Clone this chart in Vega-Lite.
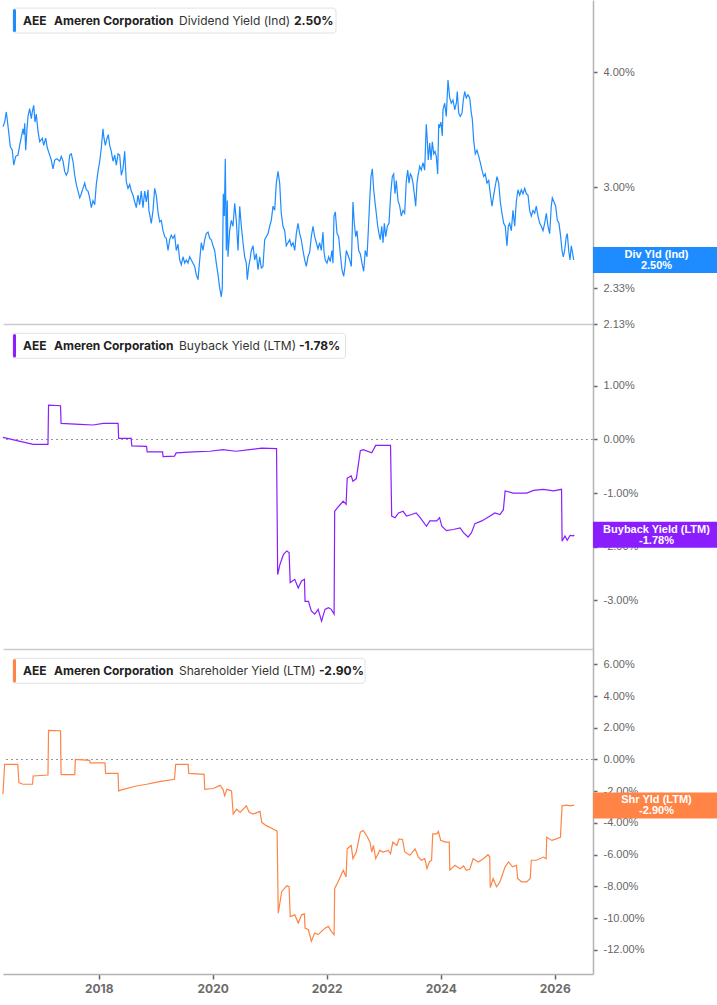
{
  "$schema": "https://vega.github.io/schema/vega-lite/v6.json",
  "padding": 0,
  "spacing": 0,
  "bounds": "flush",
  "background": "white",
  "config": {
    "font": "Inter",
    "view": {"stroke": null},
    "axis": {"grid": false, "domainColor": "#b3b3b3", "domainWidth": 1.5, "tickColor": "#666666", "tickSize": 4, "tickWidth": 1.5, "labelColor": "#666666", "labelFont": "Liberation Sans", "labelFontSize": 11, "labelOverlap": false}
  },
  "datasets": {
    "divInfo": [{"ticker": "AEE", "name": "Ameren Corporation", "metric": "Dividend Yield (Ind)", "short": "Div Yld (Ind)", "last": 2.5}],
    "bbInfo": [{"ticker": "AEE", "name": "Ameren Corporation", "metric": "Buyback Yield (LTM)", "short": "Buyback Yield (LTM)", "last": -1.78}],
    "shrInfo": [{"ticker": "AEE", "name": "Ameren Corporation", "metric": "Shareholder Yield (LTM)", "short": "Shr Yld (LTM)", "last": -2.9}],
    "div": [
      {"t":2016.321,"v":3.49},{"t":2016.351,"v":3.53},{"t":2016.379,"v":3.62},{"t":2016.396,"v":3.55},{"t":2016.426,"v":3.42},{"t":2016.449,"v":3.32},{"t":2016.484,"v":3.29},{"t":2016.509,"v":3.17},{"t":2016.544,"v":3.24},{"t":2016.584,"v":3.25},{"t":2016.614,"v":3.33},{"t":2016.642,"v":3.40},{"t":2016.672,"v":3.47},{"t":2016.689,"v":3.42},{"t":2016.702,"v":3.52},{"t":2016.719,"v":3.29},{"t":2016.742,"v":3.47},{"t":2016.760,"v":3.58},{"t":2016.789,"v":3.65},{"t":2016.818,"v":3.56},{"t":2016.835,"v":3.62},{"t":2016.860,"v":3.68},{"t":2016.882,"v":3.53},{"t":2016.905,"v":3.60},{"t":2016.935,"v":3.45},{"t":2016.965,"v":3.36},{"t":2017.010,"v":3.39},{"t":2017.035,"v":3.33},{"t":2017.070,"v":3.39},{"t":2017.098,"v":3.31},{"t":2017.140,"v":3.25},{"t":2017.168,"v":3.21},{"t":2017.198,"v":3.14},{"t":2017.228,"v":3.21},{"t":2017.268,"v":3.22},{"t":2017.316,"v":3.20},{"t":2017.344,"v":3.24},{"t":2017.374,"v":3.20},{"t":2017.403,"v":3.12},{"t":2017.432,"v":3.09},{"t":2017.461,"v":3.12},{"t":2017.491,"v":3.25},{"t":2017.519,"v":3.26},{"t":2017.549,"v":3.20},{"t":2017.579,"v":3.09},{"t":2017.607,"v":3.02},{"t":2017.637,"v":2.97},{"t":2017.667,"v":2.92},{"t":2017.695,"v":2.95},{"t":2017.724,"v":2.99},{"t":2017.754,"v":3.03},{"t":2017.782,"v":2.98},{"t":2017.812,"v":2.97},{"t":2017.842,"v":2.92},{"t":2017.870,"v":2.85},{"t":2017.900,"v":2.90},{"t":2017.930,"v":2.87},{"t":2017.958,"v":3.02},{"t":2017.988,"v":3.12},{"t":2018.018,"v":3.20},{"t":2018.046,"v":3.31},{"t":2018.075,"v":3.47},{"t":2018.093,"v":3.39},{"t":2018.116,"v":3.33},{"t":2018.146,"v":3.39},{"t":2018.168,"v":3.42},{"t":2018.193,"v":3.33},{"t":2018.221,"v":3.28},{"t":2018.251,"v":3.20},{"t":2018.281,"v":3.25},{"t":2018.309,"v":3.17},{"t":2018.339,"v":3.26},{"t":2018.368,"v":3.25},{"t":2018.397,"v":3.09},{"t":2018.426,"v":3.14},{"t":2018.456,"v":3.28},{"t":2018.484,"v":3.04},{"t":2018.514,"v":2.99},{"t":2018.544,"v":3.02},{"t":2018.572,"v":2.97},{"t":2018.602,"v":2.94},{"t":2018.632,"v":2.89},{"t":2018.660,"v":2.85},{"t":2018.689,"v":2.94},{"t":2018.719,"v":2.87},{"t":2018.747,"v":2.97},{"t":2018.777,"v":2.85},{"t":2018.807,"v":2.97},{"t":2018.835,"v":2.89},{"t":2018.865,"v":2.98},{"t":2018.880,"v":2.83},{"t":2018.895,"v":2.80},{"t":2018.923,"v":2.74},{"t":2018.953,"v":2.83},{"t":2018.982,"v":2.99},{"t":2019.010,"v":2.94},{"t":2019.040,"v":2.82},{"t":2019.070,"v":2.75},{"t":2019.098,"v":2.76},{"t":2019.128,"v":2.69},{"t":2019.158,"v":2.65},{"t":2019.186,"v":2.64},{"t":2019.216,"v":2.56},{"t":2019.245,"v":2.63},{"t":2019.273,"v":2.66},{"t":2019.303,"v":2.64},{"t":2019.333,"v":2.66},{"t":2019.361,"v":2.56},{"t":2019.391,"v":2.60},{"t":2019.421,"v":2.50},{"t":2019.449,"v":2.47},{"t":2019.479,"v":2.52},{"t":2019.509,"v":2.48},{"t":2019.537,"v":2.50},{"t":2019.567,"v":2.48},{"t":2019.596,"v":2.52},{"t":2019.625,"v":2.50},{"t":2019.654,"v":2.48},{"t":2019.684,"v":2.46},{"t":2019.712,"v":2.41},{"t":2019.742,"v":2.38},{"t":2019.772,"v":2.50},{"t":2019.800,"v":2.61},{"t":2019.830,"v":2.56},{"t":2019.860,"v":2.63},{"t":2019.888,"v":2.67},{"t":2019.918,"v":2.68},{"t":2019.947,"v":2.64},{"t":2019.975,"v":2.63},{"t":2020.005,"v":2.59},{"t":2020.035,"v":2.56},{"t":2020.063,"v":2.48},{"t":2020.093,"v":2.41},{"t":2020.123,"v":2.33},{"t":2020.151,"v":2.28},{"t":2020.168,"v":2.33},{"t":2020.186,"v":2.95},{"t":2020.204,"v":2.79},{"t":2020.221,"v":3.22},{"t":2020.239,"v":2.56},{"t":2020.256,"v":2.90},{"t":2020.268,"v":2.52},{"t":2020.298,"v":2.69},{"t":2020.326,"v":2.76},{"t":2020.356,"v":2.72},{"t":2020.386,"v":2.88},{"t":2020.414,"v":2.76},{"t":2020.444,"v":2.56},{"t":2020.474,"v":2.86},{"t":2020.502,"v":2.72},{"t":2020.532,"v":2.61},{"t":2020.561,"v":2.52},{"t":2020.590,"v":2.48},{"t":2020.607,"v":2.38},{"t":2020.632,"v":2.46},{"t":2020.654,"v":2.50},{"t":2020.677,"v":2.56},{"t":2020.707,"v":2.59},{"t":2020.737,"v":2.50},{"t":2020.765,"v":2.54},{"t":2020.795,"v":2.44},{"t":2020.824,"v":2.52},{"t":2020.853,"v":2.45},{"t":2020.882,"v":2.46},{"t":2020.912,"v":2.63},{"t":2020.940,"v":2.65},{"t":2020.970,"v":2.67},{"t":2021.000,"v":2.72},{"t":2021.028,"v":2.76},{"t":2021.058,"v":2.86},{"t":2021.088,"v":2.83},{"t":2021.116,"v":3.03},{"t":2021.146,"v":3.12},{"t":2021.175,"v":3.03},{"t":2021.203,"v":2.81},{"t":2021.233,"v":2.72},{"t":2021.263,"v":2.69},{"t":2021.291,"v":2.59},{"t":2021.321,"v":2.61},{"t":2021.351,"v":2.63},{"t":2021.379,"v":2.59},{"t":2021.409,"v":2.61},{"t":2021.439,"v":2.56},{"t":2021.467,"v":2.67},{"t":2021.496,"v":2.74},{"t":2021.526,"v":2.67},{"t":2021.554,"v":2.63},{"t":2021.584,"v":2.56},{"t":2021.614,"v":2.50},{"t":2021.642,"v":2.46},{"t":2021.672,"v":2.52},{"t":2021.702,"v":2.55},{"t":2021.730,"v":2.65},{"t":2021.760,"v":2.72},{"t":2021.789,"v":2.65},{"t":2021.818,"v":2.61},{"t":2021.847,"v":2.57},{"t":2021.877,"v":2.61},{"t":2021.905,"v":2.56},{"t":2021.935,"v":2.68},{"t":2021.953,"v":2.55},{"t":2021.975,"v":2.50},{"t":2022.005,"v":2.48},{"t":2022.035,"v":2.52},{"t":2022.063,"v":2.49},{"t":2022.093,"v":2.56},{"t":2022.110,"v":2.48},{"t":2022.128,"v":2.79},{"t":2022.151,"v":2.82},{"t":2022.181,"v":2.67},{"t":2022.210,"v":2.65},{"t":2022.238,"v":2.54},{"t":2022.268,"v":2.44},{"t":2022.298,"v":2.40},{"t":2022.321,"v":2.46},{"t":2022.344,"v":2.56},{"t":2022.374,"v":2.53},{"t":2022.403,"v":2.50},{"t":2022.432,"v":2.46},{"t":2022.461,"v":2.89},{"t":2022.484,"v":2.74},{"t":2022.509,"v":2.65},{"t":2022.532,"v":2.69},{"t":2022.561,"v":2.56},{"t":2022.589,"v":2.54},{"t":2022.619,"v":2.48},{"t":2022.649,"v":2.43},{"t":2022.677,"v":2.56},{"t":2022.707,"v":2.52},{"t":2022.730,"v":2.69},{"t":2022.754,"v":2.90},{"t":2022.777,"v":3.08},{"t":2022.800,"v":3.14},{"t":2022.825,"v":2.98},{"t":2022.847,"v":2.89},{"t":2022.870,"v":2.81},{"t":2022.895,"v":2.72},{"t":2022.917,"v":2.67},{"t":2022.940,"v":2.63},{"t":2022.965,"v":2.72},{"t":2022.988,"v":2.61},{"t":2023.011,"v":2.74},{"t":2023.035,"v":2.65},{"t":2023.063,"v":2.72},{"t":2023.093,"v":2.74},{"t":2023.123,"v":2.95},{"t":2023.151,"v":3.08},{"t":2023.175,"v":3.10},{"t":2023.198,"v":2.95},{"t":2023.221,"v":3.05},{"t":2023.251,"v":2.90},{"t":2023.281,"v":2.86},{"t":2023.309,"v":2.79},{"t":2023.339,"v":2.83},{"t":2023.368,"v":2.81},{"t":2023.397,"v":3.05},{"t":2023.421,"v":3.13},{"t":2023.444,"v":3.03},{"t":2023.467,"v":3.10},{"t":2023.491,"v":3.08},{"t":2023.514,"v":3.03},{"t":2023.537,"v":2.95},{"t":2023.561,"v":2.86},{"t":2023.584,"v":3.03},{"t":2023.607,"v":3.10},{"t":2023.632,"v":3.16},{"t":2023.660,"v":3.13},{"t":2023.689,"v":3.19},{"t":2023.719,"v":3.13},{"t":2023.747,"v":3.51},{"t":2023.765,"v":3.37},{"t":2023.782,"v":3.21},{"t":2023.807,"v":3.35},{"t":2023.830,"v":3.21},{"t":2023.853,"v":3.36},{"t":2023.877,"v":3.26},{"t":2023.900,"v":3.28},{"t":2023.923,"v":3.24},{"t":2023.947,"v":3.10},{"t":2023.965,"v":3.51},{"t":2023.982,"v":3.49},{"t":2024.005,"v":3.53},{"t":2024.028,"v":3.41},{"t":2024.040,"v":3.64},{"t":2024.070,"v":3.70},{"t":2024.098,"v":3.58},{"t":2024.128,"v":3.92},{"t":2024.158,"v":3.75},{"t":2024.186,"v":3.70},{"t":2024.216,"v":3.73},{"t":2024.246,"v":3.64},{"t":2024.274,"v":3.70},{"t":2024.291,"v":3.81},{"t":2024.316,"v":3.61},{"t":2024.344,"v":3.58},{"t":2024.374,"v":3.61},{"t":2024.397,"v":3.73},{"t":2024.421,"v":3.81},{"t":2024.449,"v":3.75},{"t":2024.479,"v":3.78},{"t":2024.509,"v":3.75},{"t":2024.537,"v":3.61},{"t":2024.554,"v":3.56},{"t":2024.579,"v":3.37},{"t":2024.607,"v":3.26},{"t":2024.637,"v":3.29},{"t":2024.667,"v":3.24},{"t":2024.695,"v":3.19},{"t":2024.725,"v":3.13},{"t":2024.754,"v":3.08},{"t":2024.782,"v":3.10},{"t":2024.812,"v":3.03},{"t":2024.842,"v":3.05},{"t":2024.870,"v":2.95},{"t":2024.900,"v":2.86},{"t":2024.930,"v":2.94},{"t":2024.958,"v":3.01},{"t":2024.988,"v":3.08},{"t":2025.018,"v":3.03},{"t":2025.046,"v":2.89},{"t":2025.075,"v":2.81},{"t":2025.105,"v":2.74},{"t":2025.133,"v":2.72},{"t":2025.163,"v":2.59},{"t":2025.186,"v":2.72},{"t":2025.210,"v":2.74},{"t":2025.239,"v":2.69},{"t":2025.268,"v":2.83},{"t":2025.298,"v":2.72},{"t":2025.326,"v":2.89},{"t":2025.356,"v":2.98},{"t":2025.386,"v":2.94},{"t":2025.414,"v":2.98},{"t":2025.444,"v":2.95},{"t":2025.474,"v":2.99},{"t":2025.502,"v":2.95},{"t":2025.532,"v":2.94},{"t":2025.561,"v":2.83},{"t":2025.590,"v":2.79},{"t":2025.619,"v":2.83},{"t":2025.649,"v":2.81},{"t":2025.677,"v":2.86},{"t":2025.707,"v":2.79},{"t":2025.737,"v":2.74},{"t":2025.765,"v":2.72},{"t":2025.795,"v":2.69},{"t":2025.824,"v":2.74},{"t":2025.853,"v":2.81},{"t":2025.882,"v":2.72},{"t":2025.912,"v":2.67},{"t":2025.940,"v":2.86},{"t":2025.958,"v":2.92},{"t":2025.988,"v":2.89},{"t":2026.017,"v":2.86},{"t":2026.046,"v":2.76},{"t":2026.075,"v":2.74},{"t":2026.105,"v":2.65},{"t":2026.128,"v":2.56},{"t":2026.151,"v":2.52},{"t":2026.175,"v":2.56},{"t":2026.203,"v":2.65},{"t":2026.221,"v":2.67},{"t":2026.246,"v":2.56},{"t":2026.268,"v":2.50},{"t":2026.291,"v":2.59},{"t":2026.316,"v":2.54},{"t":2026.333,"v":2.50}
    ],
    "bb": [
      {"t":2016.32,"v":0.04},{"t":2016.85,"v":-0.09},{"t":2017.11,"v":-0.09},{"t":2017.12,"v":0.64},{"t":2017.33,"v":0.63},{"t":2017.34,"v":0.30},{"t":2017.67,"v":0.28},{"t":2017.90,"v":0.27},{"t":2018.08,"v":0.30},{"t":2018.34,"v":0.30},{"t":2018.35,"v":0.02},{"t":2018.57,"v":0.02},{"t":2018.58,"v":-0.12},{"t":2018.84,"v":-0.13},{"t":2018.85,"v":-0.23},{"t":2019.12,"v":-0.23},{"t":2019.13,"v":-0.32},{"t":2019.33,"v":-0.31},{"t":2019.36,"v":-0.25},{"t":2019.66,"v":-0.23},{"t":2019.95,"v":-0.22},{"t":2020.18,"v":-0.19},{"t":2020.41,"v":-0.22},{"t":2020.65,"v":-0.19},{"t":2020.86,"v":-0.16},{"t":2021.12,"v":-0.17},{"t":2021.14,"v":-2.52},{"t":2021.18,"v":-2.33},{"t":2021.24,"v":-2.15},{"t":2021.30,"v":-2.08},{"t":2021.34,"v":-2.11},{"t":2021.36,"v":-2.67},{"t":2021.44,"v":-2.61},{"t":2021.50,"v":-2.77},{"t":2021.56,"v":-2.64},{"t":2021.61,"v":-2.61},{"t":2021.62,"v":-3.02},{"t":2021.68,"v":-3.02},{"t":2021.73,"v":-3.20},{"t":2021.79,"v":-3.26},{"t":2021.85,"v":-3.17},{"t":2021.91,"v":-3.39},{"t":2021.97,"v":-3.17},{"t":2022.03,"v":-3.14},{"t":2022.08,"v":-3.17},{"t":2022.13,"v":-3.26},{"t":2022.14,"v":-1.34},{"t":2022.20,"v":-1.26},{"t":2022.29,"v":-1.15},{"t":2022.34,"v":-1.21},{"t":2022.36,"v":-0.72},{"t":2022.43,"v":-0.68},{"t":2022.46,"v":-0.78},{"t":2022.52,"v":-0.73},{"t":2022.59,"v":-0.21},{"t":2022.64,"v":-0.19},{"t":2022.79,"v":-0.25},{"t":2022.86,"v":-0.11},{"t":2023.12,"v":-0.11},{"t":2023.14,"v":-1.43},{"t":2023.20,"v":-1.46},{"t":2023.26,"v":-1.37},{"t":2023.34,"v":-1.34},{"t":2023.40,"v":-1.43},{"t":2023.49,"v":-1.40},{"t":2023.57,"v":-1.37},{"t":2023.64,"v":-1.46},{"t":2023.75,"v":-1.62},{"t":2023.81,"v":-1.52},{"t":2023.93,"v":-1.52},{"t":2023.98,"v":-1.46},{"t":2024.02,"v":-1.62},{"t":2024.10,"v":-1.70},{"t":2024.22,"v":-1.68},{"t":2024.34,"v":-1.65},{"t":2024.40,"v":-1.74},{"t":2024.48,"v":-1.82},{"t":2024.54,"v":-1.74},{"t":2024.60,"v":-1.57},{"t":2024.72,"v":-1.52},{"t":2024.83,"v":-1.45},{"t":2024.95,"v":-1.37},{"t":2025.04,"v":-1.40},{"t":2025.10,"v":-1.31},{"t":2025.13,"v":-0.96},{"t":2025.27,"v":-1.00},{"t":2025.51,"v":-1.00},{"t":2025.63,"v":-0.95},{"t":2025.80,"v":-0.93},{"t":2025.98,"v":-0.96},{"t":2026.12,"v":-0.93},{"t":2026.13,"v":-1.90},{"t":2026.18,"v":-1.80},{"t":2026.22,"v":-1.88},{"t":2026.27,"v":-1.79},{"t":2026.33,"v":-1.80},{"t":2026.34,"v":-1.78}
    ],
    "shr": [
      {"t":2016.32,"v":-2.19},{"t":2016.35,"v":-0.31},{"t":2016.58,"v":-0.31},{"t":2016.60,"v":-1.46},{"t":2016.67,"v":-1.56},{"t":2016.84,"v":-1.56},{"t":2016.85,"v":-1.04},{"t":2017.11,"v":-0.98},{"t":2017.12,"v":1.83},{"t":2017.33,"v":1.81},{"t":2017.34,"v":-0.96},{"t":2017.58,"v":-0.96},{"t":2017.59,"v":0.0},{"t":2017.84,"v":-0.06},{"t":2017.85,"v":-0.21},{"t":2018.11,"v":-0.21},{"t":2018.12,"v":-0.88},{"t":2018.34,"v":-0.88},{"t":2018.35,"v":-1.98},{"t":2018.43,"v":-1.88},{"t":2018.66,"v":-1.67},{"t":2018.84,"v":-1.56},{"t":2018.98,"v":-1.46},{"t":2019.07,"v":-1.40},{"t":2019.33,"v":-1.25},{"t":2019.35,"v":-0.31},{"t":2019.57,"v":-0.31},{"t":2019.58,"v":-0.88},{"t":2019.85,"v":-0.94},{"t":2019.86,"v":-1.88},{"t":2020.01,"v":-1.83},{"t":2020.13,"v":-1.63},{"t":2020.18,"v":-1.88},{"t":2020.21,"v":-2.29},{"t":2020.25,"v":-1.88},{"t":2020.33,"v":-1.98},{"t":2020.36,"v":-3.44},{"t":2020.42,"v":-3.13},{"t":2020.48,"v":-3.33},{"t":2020.59,"v":-2.92},{"t":2020.64,"v":-3.33},{"t":2020.71,"v":-3.44},{"t":2020.83,"v":-3.27},{"t":2020.86,"v":-3.96},{"t":2020.94,"v":-4.17},{"t":2021.06,"v":-4.38},{"t":2021.13,"v":-4.52},{"t":2021.15,"v":-9.69},{"t":2021.21,"v":-8.33},{"t":2021.27,"v":-8.08},{"t":2021.30,"v":-7.96},{"t":2021.34,"v":-8.02},{"t":2021.36,"v":-9.90},{"t":2021.44,"v":-9.79},{"t":2021.50,"v":-10.31},{"t":2021.56,"v":-9.79},{"t":2021.61,"v":-9.73},{"t":2021.62,"v":-10.63},{"t":2021.68,"v":-10.73},{"t":2021.73,"v":-11.46},{"t":2021.79,"v":-10.94},{"t":2021.85,"v":-11.04},{"t":2021.91,"v":-10.83},{"t":2021.97,"v":-10.63},{"t":2022.03,"v":-10.52},{"t":2022.08,"v":-10.83},{"t":2022.13,"v":-11.04},{"t":2022.14,"v":-8.13},{"t":2022.20,"v":-7.71},{"t":2022.29,"v":-6.98},{"t":2022.34,"v":-7.40},{"t":2022.36,"v":-5.63},{"t":2022.43,"v":-5.42},{"t":2022.46,"v":-6.25},{"t":2022.52,"v":-5.83},{"t":2022.59,"v":-4.58},{"t":2022.64,"v":-4.48},{"t":2022.70,"v":-4.79},{"t":2022.76,"v":-5.21},{"t":2022.79,"v":-5.83},{"t":2022.82,"v":-5.42},{"t":2022.86,"v":-6.25},{"t":2022.93,"v":-5.73},{"t":2022.99,"v":-5.83},{"t":2023.08,"v":-5.73},{"t":2023.12,"v":-5.94},{"t":2023.16,"v":-5.21},{"t":2023.23,"v":-5.42},{"t":2023.27,"v":-5.00},{"t":2023.33,"v":-5.04},{"t":2023.37,"v":-5.83},{"t":2023.46,"v":-6.04},{"t":2023.55,"v":-5.63},{"t":2023.61,"v":-6.15},{"t":2023.66,"v":-6.35},{"t":2023.72,"v":-6.25},{"t":2023.76,"v":-6.88},{"t":2023.80,"v":-6.46},{"t":2023.84,"v":-6.35},{"t":2023.86,"v":-4.69},{"t":2023.93,"v":-4.69},{"t":2023.96,"v":-4.54},{"t":2024.00,"v":-5.10},{"t":2024.08,"v":-5.21},{"t":2024.15,"v":-5.21},{"t":2024.16,"v":-6.98},{"t":2024.25,"v":-6.67},{"t":2024.34,"v":-6.88},{"t":2024.40,"v":-6.71},{"t":2024.45,"v":-6.98},{"t":2024.51,"v":-6.92},{"t":2024.57,"v":-6.25},{"t":2024.66,"v":-6.46},{"t":2024.75,"v":-6.25},{"t":2024.83,"v":-6.00},{"t":2024.86,"v":-6.15},{"t":2024.87,"v":-8.08},{"t":2024.92,"v":-7.50},{"t":2024.98,"v":-8.02},{"t":2025.04,"v":-7.71},{"t":2025.13,"v":-6.77},{"t":2025.19,"v":-6.46},{"t":2025.26,"v":-6.77},{"t":2025.33,"v":-6.67},{"t":2025.35,"v":-7.50},{"t":2025.42,"v":-7.71},{"t":2025.51,"v":-7.71},{"t":2025.57,"v":-7.50},{"t":2025.59,"v":-6.35},{"t":2025.68,"v":-6.35},{"t":2025.80,"v":-6.15},{"t":2025.85,"v":-6.25},{"t":2025.86,"v":-4.90},{"t":2025.95,"v":-5.10},{"t":2026.03,"v":-5.00},{"t":2026.10,"v":-4.90},{"t":2026.13,"v":-2.92},{"t":2026.21,"v":-2.88},{"t":2026.27,"v":-2.92},{"t":2026.33,"v":-2.88},{"t":2026.34,"v":-2.90}
    ]
  },
  "vconcat": [
    {
      "width": 590,
      "height": 324,
      "layer": [
        {
          "data": {"name": "div"},
          "mark": {"type": "line", "color": "#1e8cff", "strokeWidth": 1.2},
          "encoding": {
            "x": {"field": "t", "type": "quantitative", "scale": {"domain": [2016.321, 2026.672], "nice": false, "zero": false}, "axis": {"title": null, "labels": false, "ticks": false, "domainColor": "#cccccc"}},
            "y": {"field": "v", "type": "quantitative", "scale": {"type": "log", "domain": [2.13, 4.79], "nice": false}, "axis": {"title": null, "orient": "right", "values": [2.13, 2.33, 2.53, 3, 4], "tickCount": 20, "labelExpr": "(datum.value < 0 ? '-' : '') + format(abs(datum.value), '.2f') + '%'", "labelPadding": 6}}
          }
        },
        {
          "data": {"name": "divInfo"},
          "mark": {"type": "rule", "color": "#1e8cff", "strokeWidth": 26, "strokeCap": "butt"},
          "encoding": {
            "x": {"datum": 2026.672, "type": "quantitative", "scale": {"domain": [2016.321, 2026.672], "nice": false, "zero": false}},
            "x2": {"datum": 2028.9},
            "y": {"field": "last", "type": "quantitative", "scale": {"type": "log", "domain": [2.13, 4.79], "nice": false}}
          }
        },
        {
          "data": {"name": "divInfo"},
          "mark": {"type": "text", "align": "center", "baseline": "middle", "font": "Liberation Sans", "fontSize": 11, "fontWeight": "bold", "color": "white", "dy": -5},
          "encoding": {
            "x": {"datum": 2027.786, "type": "quantitative", "scale": {"domain": [2016.321, 2026.672], "nice": false, "zero": false}},
            "y": {"field": "last", "type": "quantitative", "scale": {"type": "log", "domain": [2.13, 4.79], "nice": false}},
            "text": {"field": "short"}
          }
        },
        {
          "data": {"name": "divInfo"},
          "transform": [{"calculate": "(datum.last < 0 ? '-' : '') + format(abs(datum.last), '.2f') + '%'", "as": "lastLabel"}],
          "mark": {"type": "text", "align": "center", "baseline": "middle", "font": "Liberation Sans", "fontSize": 11, "fontWeight": "bold", "color": "white", "dy": 6},
          "encoding": {
            "x": {"datum": 2027.786, "type": "quantitative", "scale": {"domain": [2016.321, 2026.672], "nice": false, "zero": false}},
            "y": {"field": "last", "type": "quantitative", "scale": {"type": "log", "domain": [2.13, 4.79], "nice": false}},
            "text": {"field": "lastLabel"}
          }
        },
        {
          "data": {"name": "divInfo"},
          "mark": {"type": "rect", "fill": "white", "stroke": "#e2e2e2", "strokeWidth": 1, "cornerRadius": 3},
          "encoding": {
            "x": {"datum": 2016.496, "type": "quantitative", "scale": {"domain": [2016.321, 2026.672], "nice": false, "zero": false}},
            "x2": {"datum": 2022.163},
            "y": {"datum": 4.694, "type": "quantitative", "scale": {"type": "log", "domain": [2.13, 4.79], "nice": false}},
            "y2": {"datum": 4.41}
          }
        },
        {
          "data": {"name": "divInfo"},
          "mark": {"type": "rule", "color": "#1e8cff", "strokeWidth": 3, "strokeCap": "round"},
          "encoding": {
            "x": {"datum": 2016.523, "type": "quantitative", "scale": {"domain": [2016.321, 2026.672], "nice": false, "zero": false}},
            "y": {"datum": 4.665, "type": "quantitative", "scale": {"type": "log", "domain": [2.13, 4.79], "nice": false}},
            "y2": {"datum": 4.437}
          }
        },
        {
          "data": {"name": "divInfo"},
          "mark": {"type": "text", "align": "left", "baseline": "middle", "fontSize": 12, "fontWeight": "bold", "color": "#222222"},
          "encoding": {
            "x": {"datum": 2016.672, "type": "quantitative", "scale": {"domain": [2016.321, 2026.672], "nice": false, "zero": false}},
            "y": {"datum": 4.55, "type": "quantitative", "scale": {"type": "log", "domain": [2.13, 4.79], "nice": false}},
            "text": {"field": "ticker"}
          }
        },
        {
          "data": {"name": "divInfo"},
          "mark": {"type": "text", "align": "left", "baseline": "middle", "fontSize": 12, "fontWeight": "bold", "color": "#222222"},
          "encoding": {
            "x": {"datum": 2017.216, "type": "quantitative", "scale": {"domain": [2016.321, 2026.672], "nice": false, "zero": false}},
            "y": {"datum": 4.55, "type": "quantitative", "scale": {"type": "log", "domain": [2.13, 4.79], "nice": false}},
            "text": {"field": "name"}
          }
        },
        {
          "data": {"name": "divInfo"},
          "mark": {"type": "text", "align": "left", "baseline": "middle", "fontSize": 12, "color": "#333333"},
          "encoding": {
            "x": {"datum": 2019.409, "type": "quantitative", "scale": {"domain": [2016.321, 2026.672], "nice": false, "zero": false}},
            "y": {"datum": 4.55, "type": "quantitative", "scale": {"type": "log", "domain": [2.13, 4.79], "nice": false}},
            "text": {"field": "metric"}
          }
        },
        {
          "data": {"name": "divInfo"},
          "transform": [{"calculate": "(datum.last < 0 ? '-' : '') + format(abs(datum.last), '.2f') + '%'", "as": "lastLabel"}],
          "mark": {"type": "text", "align": "left", "baseline": "middle", "fontSize": 12, "fontWeight": "bold", "color": "#222222"},
          "encoding": {
            "x": {"datum": 2021.426, "type": "quantitative", "scale": {"domain": [2016.321, 2026.672], "nice": false, "zero": false}},
            "y": {"datum": 4.55, "type": "quantitative", "scale": {"type": "log", "domain": [2.13, 4.79], "nice": false}},
            "text": {"field": "lastLabel"}
          }
        }
      ]
    },
    {
      "width": 590,
      "height": 325,
      "layer": [
        {
          "data": {"name": "bbInfo"},
          "mark": {"type": "rule", "color": "#999999", "strokeWidth": 1.2, "strokeDash": [2, 3]},
          "encoding": {
            "y": {"datum": 0, "type": "quantitative", "scale": {"domain": [-3.91, 2.155], "nice": false, "zero": false}}
          }
        },
        {
          "data": {"name": "bb"},
          "mark": {"type": "line", "color": "#8b1eff", "strokeWidth": 1.2},
          "encoding": {
            "x": {"field": "t", "type": "quantitative", "scale": {"domain": [2016.321, 2026.672], "nice": false, "zero": false}, "axis": {"title": null, "labels": false, "ticks": false, "domainColor": "#cccccc"}},
            "y": {"field": "v", "type": "quantitative", "scale": {"domain": [-3.91, 2.155], "nice": false, "zero": false}, "axis": {"title": null, "orient": "right", "values": [-3, -2, -1, 0, 1], "tickCount": 20, "labelExpr": "(datum.value < 0 ? '-' : '') + format(abs(datum.value), '.2f') + '%'", "labelPadding": 6}}
          }
        },
        {
          "data": {"name": "bbInfo"},
          "mark": {"type": "rule", "color": "#8b1eff", "strokeWidth": 26, "strokeCap": "butt"},
          "encoding": {
            "x": {"datum": 2026.672, "type": "quantitative", "scale": {"domain": [2016.321, 2026.672], "nice": false, "zero": false}},
            "x2": {"datum": 2028.9},
            "y": {"field": "last", "type": "quantitative", "scale": {"domain": [-3.91, 2.155], "nice": false, "zero": false}}
          }
        },
        {
          "data": {"name": "bbInfo"},
          "mark": {"type": "text", "align": "center", "baseline": "middle", "font": "Liberation Sans", "fontSize": 11, "fontWeight": "bold", "color": "white", "dy": -5},
          "encoding": {
            "x": {"datum": 2027.786, "type": "quantitative", "scale": {"domain": [2016.321, 2026.672], "nice": false, "zero": false}},
            "y": {"field": "last", "type": "quantitative", "scale": {"domain": [-3.91, 2.155], "nice": false, "zero": false}},
            "text": {"field": "short"}
          }
        },
        {
          "data": {"name": "bbInfo"},
          "transform": [{"calculate": "(datum.last < 0 ? '-' : '') + format(abs(datum.last), '.2f') + '%'", "as": "lastLabel"}],
          "mark": {"type": "text", "align": "center", "baseline": "middle", "font": "Liberation Sans", "fontSize": 11, "fontWeight": "bold", "color": "white", "dy": 6},
          "encoding": {
            "x": {"datum": 2027.786, "type": "quantitative", "scale": {"domain": [2016.321, 2026.672], "nice": false, "zero": false}},
            "y": {"field": "last", "type": "quantitative", "scale": {"domain": [-3.91, 2.155], "nice": false, "zero": false}},
            "text": {"field": "lastLabel"}
          }
        },
        {
          "data": {"name": "bbInfo"},
          "mark": {"type": "rect", "fill": "white", "stroke": "#e2e2e2", "strokeWidth": 1, "cornerRadius": 3},
          "encoding": {
            "x": {"datum": 2016.496, "type": "quantitative", "scale": {"domain": [2016.321, 2026.672], "nice": false, "zero": false}},
            "x2": {"datum": 2022.33},
            "y": {"datum": 1.981, "type": "quantitative", "scale": {"domain": [-3.91, 2.155], "nice": false, "zero": false}},
            "y2": {"datum": 1.515}
          }
        },
        {
          "data": {"name": "bbInfo"},
          "mark": {"type": "rule", "color": "#8b1eff", "strokeWidth": 3, "strokeCap": "round"},
          "encoding": {
            "x": {"datum": 2016.523, "type": "quantitative", "scale": {"domain": [2016.321, 2026.672], "nice": false, "zero": false}},
            "y": {"datum": 1.94, "type": "quantitative", "scale": {"domain": [-3.91, 2.155], "nice": false, "zero": false}},
            "y2": {"datum": 1.558}
          }
        },
        {
          "data": {"name": "bbInfo"},
          "mark": {"type": "text", "align": "left", "baseline": "middle", "fontSize": 12, "fontWeight": "bold", "color": "#222222"},
          "encoding": {
            "x": {"datum": 2016.672, "type": "quantitative", "scale": {"domain": [2016.321, 2026.672], "nice": false, "zero": false}},
            "y": {"datum": 1.75, "type": "quantitative", "scale": {"domain": [-3.91, 2.155], "nice": false, "zero": false}},
            "text": {"field": "ticker"}
          }
        },
        {
          "data": {"name": "bbInfo"},
          "mark": {"type": "text", "align": "left", "baseline": "middle", "fontSize": 12, "fontWeight": "bold", "color": "#222222"},
          "encoding": {
            "x": {"datum": 2017.216, "type": "quantitative", "scale": {"domain": [2016.321, 2026.672], "nice": false, "zero": false}},
            "y": {"datum": 1.75, "type": "quantitative", "scale": {"domain": [-3.91, 2.155], "nice": false, "zero": false}},
            "text": {"field": "name"}
          }
        },
        {
          "data": {"name": "bbInfo"},
          "mark": {"type": "text", "align": "left", "baseline": "middle", "fontSize": 12, "color": "#333333"},
          "encoding": {
            "x": {"datum": 2019.409, "type": "quantitative", "scale": {"domain": [2016.321, 2026.672], "nice": false, "zero": false}},
            "y": {"datum": 1.75, "type": "quantitative", "scale": {"domain": [-3.91, 2.155], "nice": false, "zero": false}},
            "text": {"field": "metric"}
          }
        },
        {
          "data": {"name": "bbInfo"},
          "transform": [{"calculate": "(datum.last < 0 ? '-' : '') + format(abs(datum.last), '.2f') + '%'", "as": "lastLabel"}],
          "mark": {"type": "text", "align": "left", "baseline": "middle", "fontSize": 12, "fontWeight": "bold", "color": "#222222"},
          "encoding": {
            "x": {"datum": 2021.514, "type": "quantitative", "scale": {"domain": [2016.321, 2026.672], "nice": false, "zero": false}},
            "y": {"datum": 1.75, "type": "quantitative", "scale": {"domain": [-3.91, 2.155], "nice": false, "zero": false}},
            "text": {"field": "lastLabel"}
          }
        }
      ]
    },
    {
      "width": 590,
      "height": 325,
      "layer": [
        {
          "data": {"name": "shrInfo"},
          "mark": {"type": "rule", "color": "#999999", "strokeWidth": 1.2, "strokeDash": [2, 3]},
          "encoding": {
            "y": {"datum": 0, "type": "quantitative", "scale": {"domain": [-13.52, 6.963], "nice": false, "zero": false}}
          }
        },
        {
          "data": {"name": "shr"},
          "mark": {"type": "line", "color": "#ff8446", "strokeWidth": 1.2},
          "encoding": {
            "x": {"field": "t", "type": "quantitative", "scale": {"domain": [2016.321, 2026.672], "nice": false, "zero": false}, "axis": {"title": null, "values": [2018, 2020, 2022, 2024, 2026], "tickCount": 20, "format": "d", "labelFont": "Inter", "labelFontWeight": "bold", "labelFontSize": 12, "labelColor": "#6b6b6b", "tickSize": 5, "labelPadding": 4}},
            "y": {"field": "v", "type": "quantitative", "scale": {"domain": [-13.52, 6.963], "nice": false, "zero": false}, "axis": {"title": null, "orient": "right", "values": [-12, -10, -8, -6, -4, -2, 0, 2, 4, 6], "tickCount": 20, "labelExpr": "(datum.value < 0 ? '-' : '') + format(abs(datum.value), '.2f') + '%'", "labelPadding": 6}}
          }
        },
        {
          "data": {"name": "shrInfo"},
          "mark": {"type": "rule", "color": "#ff8446", "strokeWidth": 26, "strokeCap": "butt"},
          "encoding": {
            "x": {"datum": 2026.672, "type": "quantitative", "scale": {"domain": [2016.321, 2026.672], "nice": false, "zero": false}},
            "x2": {"datum": 2028.9},
            "y": {"field": "last", "type": "quantitative", "scale": {"domain": [-13.52, 6.963], "nice": false, "zero": false}}
          }
        },
        {
          "data": {"name": "shrInfo"},
          "mark": {"type": "text", "align": "center", "baseline": "middle", "font": "Liberation Sans", "fontSize": 11, "fontWeight": "bold", "color": "white", "dy": -5},
          "encoding": {
            "x": {"datum": 2027.786, "type": "quantitative", "scale": {"domain": [2016.321, 2026.672], "nice": false, "zero": false}},
            "y": {"field": "last", "type": "quantitative", "scale": {"domain": [-13.52, 6.963], "nice": false, "zero": false}},
            "text": {"field": "short"}
          }
        },
        {
          "data": {"name": "shrInfo"},
          "transform": [{"calculate": "(datum.last < 0 ? '-' : '') + format(abs(datum.last), '.2f') + '%'", "as": "lastLabel"}],
          "mark": {"type": "text", "align": "center", "baseline": "middle", "font": "Liberation Sans", "fontSize": 11, "fontWeight": "bold", "color": "white", "dy": 6},
          "encoding": {
            "x": {"datum": 2027.786, "type": "quantitative", "scale": {"domain": [2016.321, 2026.672], "nice": false, "zero": false}},
            "y": {"field": "last", "type": "quantitative", "scale": {"domain": [-13.52, 6.963], "nice": false, "zero": false}},
            "text": {"field": "lastLabel"}
          }
        },
        {
          "data": {"name": "shrInfo"},
          "mark": {"type": "rect", "fill": "white", "stroke": "#e2e2e2", "strokeWidth": 1, "cornerRadius": 3},
          "encoding": {
            "x": {"datum": 2016.496, "type": "quantitative", "scale": {"domain": [2016.321, 2026.672], "nice": false, "zero": false}},
            "x2": {"datum": 2022.672},
            "y": {"datum": 6.377, "type": "quantitative", "scale": {"domain": [-13.52, 6.963], "nice": false, "zero": false}},
            "y2": {"datum": 4.8}
          }
        },
        {
          "data": {"name": "shrInfo"},
          "mark": {"type": "rule", "color": "#ff8446", "strokeWidth": 3, "strokeCap": "round"},
          "encoding": {
            "x": {"datum": 2016.523, "type": "quantitative", "scale": {"domain": [2016.321, 2026.672], "nice": false, "zero": false}},
            "y": {"datum": 6.238, "type": "quantitative", "scale": {"domain": [-13.52, 6.963], "nice": false, "zero": false}},
            "y2": {"datum": 4.947}
          }
        },
        {
          "data": {"name": "shrInfo"},
          "mark": {"type": "text", "align": "left", "baseline": "middle", "fontSize": 12, "fontWeight": "bold", "color": "#222222"},
          "encoding": {
            "x": {"datum": 2016.672, "type": "quantitative", "scale": {"domain": [2016.321, 2026.672], "nice": false, "zero": false}},
            "y": {"datum": 5.596, "type": "quantitative", "scale": {"domain": [-13.52, 6.963], "nice": false, "zero": false}},
            "text": {"field": "ticker"}
          }
        },
        {
          "data": {"name": "shrInfo"},
          "mark": {"type": "text", "align": "left", "baseline": "middle", "fontSize": 12, "fontWeight": "bold", "color": "#222222"},
          "encoding": {
            "x": {"datum": 2017.216, "type": "quantitative", "scale": {"domain": [2016.321, 2026.672], "nice": false, "zero": false}},
            "y": {"datum": 5.596, "type": "quantitative", "scale": {"domain": [-13.52, 6.963], "nice": false, "zero": false}},
            "text": {"field": "name"}
          }
        },
        {
          "data": {"name": "shrInfo"},
          "mark": {"type": "text", "align": "left", "baseline": "middle", "fontSize": 12, "color": "#333333"},
          "encoding": {
            "x": {"datum": 2019.409, "type": "quantitative", "scale": {"domain": [2016.321, 2026.672], "nice": false, "zero": false}},
            "y": {"datum": 5.596, "type": "quantitative", "scale": {"domain": [-13.52, 6.963], "nice": false, "zero": false}},
            "text": {"field": "metric"}
          }
        },
        {
          "data": {"name": "shrInfo"},
          "transform": [{"calculate": "(datum.last < 0 ? '-' : '') + format(abs(datum.last), '.2f') + '%'", "as": "lastLabel"}],
          "mark": {"type": "text", "align": "left", "baseline": "middle", "fontSize": 12, "fontWeight": "bold", "color": "#222222"},
          "encoding": {
            "x": {"datum": 2021.865, "type": "quantitative", "scale": {"domain": [2016.321, 2026.672], "nice": false, "zero": false}},
            "y": {"datum": 5.596, "type": "quantitative", "scale": {"domain": [-13.52, 6.963], "nice": false, "zero": false}},
            "text": {"field": "lastLabel"}
          }
        }
      ]
    }
  ]
}
